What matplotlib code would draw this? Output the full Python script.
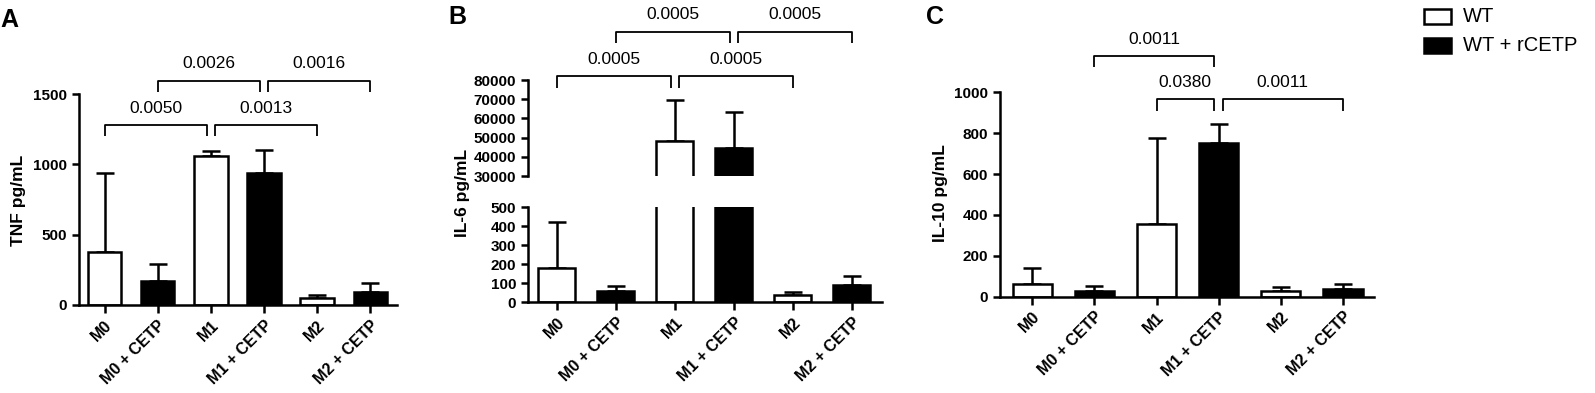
import matplotlib
matplotlib.use("Agg")
import matplotlib.pyplot as plt
from matplotlib.patches import Rectangle
import numpy as np

plt.rcParams["font.family"] = ["Liberation Sans", "DejaVu Sans"]

groups = ["M0", "M0 + CETP", "M1", "M1 + CETP", "M2", "M2 + CETP"]
colors = ["white", "black", "white", "black", "white", "black"]

# means and upper error ends (mean + SD)
tnf_mean = [380, 172, 1060, 940, 52, 92]
tnf_top = [940, 290, 1095, 1100, 72, 158]
il6_mean = [177, 58, 48000, 44500, 37, 88]
il6_top = [423, 86, 69600, 63500, 51, 137]
il10_mean = [61, 28, 356, 753, 28, 36]
il10_top = [142, 50, 775, 845, 48, 62]

# brackets: (left, right, bar y, leg y, text y, label)
tnf_brackets = [
    (0, 1.925, 1280, 1200, 1400, "0.0050"),
    (2.075, 4, 1280, 1200, 1400, "0.0013"),
    (1, 2.925, 1595, 1515, 1720, "0.0026"),
    (3.075, 5, 1595, 1515, 1720, "0.0016"),
]
il6_brackets = [
    (0, 1.93, 82000, 76000, 90800, "0.0005"),
    (2.07, 4, 82000, 76000, 90800, "0.0005"),
    (1, 2.93, 104800, 99100, 113900, "0.0005"),
    (3.07, 5, 104800, 99100, 113900, "0.0005"),
]
il10_brackets = [
    (1, 2.925, 1178, 1125, 1259, "0.0011"),
    (2, 2.925, 967, 910, 1047, "0.0380"),
    (3.065, 5, 967, 910, 1047, "0.0011"),
]

W, H = 1595, 393
fig = plt.figure(figsize=(W / 100, H / 100), dpi=100)

LW = 1.8
x = np.arange(len(groups))


def px_box(l, r, t, b):
    return [l / W, 1 - b / H, (r - l) / W, (b - t) / H]


def draw_bars(ax, mean, top):
    mean = np.array(mean, float)
    top = np.array(top, float)
    ax.errorbar(x, mean, yerr=[np.zeros_like(mean), top - mean], fmt="none",
                ecolor="black", elinewidth=LW, capsize=6.8, capthick=LW,
                zorder=1)
    ax.bar(x, mean, width=0.63, color=colors, edgecolor="black", lw=LW,
           zorder=2)


def style(ax, xlim, xt=True):
    for s in ("top", "right"):
        ax.spines[s].set_visible(False)
    for s in ("left", "bottom"):
        ax.spines[s].set_linewidth(LW)
    ax.set_xlim(*xlim)
    ax.tick_params(axis="both", width=LW, length=5, direction="out")
    ax.tick_params(axis="y", labelsize=11)
    for t in ax.get_yticklabels():
        t.set_fontweight("bold")
    if xt:
        ax.set_xticks(x)
        ax.set_xticklabels(groups, rotation=45, ha="right",
                           rotation_mode="anchor", fontsize=11.5,
                           fontweight="bold")
        ax.tick_params(axis="x", length=6, pad=3)


def draw_brackets(ax, brackets):
    for l, r, yb, yl, yt, lab in brackets:
        ax.plot([l, l, r, r], [yl, yb, yb, yl], color="black", lw=1.3,
                clip_on=False, solid_capstyle="butt")
        ax.text((l + r) / 2, yt, lab, ha="center", va="center",
                fontsize=12.5, clip_on=False)


# ---- A: TNF ----------------------------------------------------------------
axA = fig.add_axes(px_box(79, 397, 94, 305))
draw_bars(axA, tnf_mean, tnf_top)
axA.set_ylim(0, 1500)
axA.set_yticks([0, 500, 1000, 1500])
style(axA, (-0.48, 5.5))
draw_brackets(axA, tnf_brackets)
fig.text(19 / W, 1 - 200 / H, "TNF pg/mL", rotation=90, ha="center",
         va="center", fontsize=12.5, fontweight="bold")
fig.text(0 / W, 1 - 20 / H, "A", ha="left", va="center", fontsize=18,
         fontweight="bold")

# ---- B: IL-6 (broken axis) ---------------------------------------------------
axB = fig.add_axes(px_box(528, 882, 207.3, 302))
axBu = fig.add_axes(px_box(528, 882, 80, 176))
for ax in (axB, axBu):
    draw_bars(ax, il6_mean, il6_top)
axB.set_ylim(0, 500)
axB.set_yticks(range(0, 501, 100))
axBu.set_ylim(30000, 80000)
axBu.set_yticks(range(30000, 80001, 10000))
style(axB, (-0.49, 5.51))
style(axBu, (-0.49, 5.51), xt=False)
axBu.spines["bottom"].set_visible(False)
axBu.set_xticks([])
axBu.patch.set_alpha(0)
draw_brackets(axBu, il6_brackets)
fig.text(462 / W, 1 - 193 / H, "IL-6 pg/mL", rotation=90, ha="center",
         va="center", fontsize=12.5, fontweight="bold")
fig.text(448 / W, 1 - 17 / H, "B", ha="left", va="center", fontsize=18,
         fontweight="bold")

# ---- C: IL-10 ----------------------------------------------------------------
axC = fig.add_axes(px_box(1000, 1374, 92.3, 296.7))
draw_bars(axC, il10_mean, il10_top)
axC.set_ylim(0, 1000)
axC.set_yticks(range(0, 1001, 200))
style(axC, (-0.52, 5.5))
draw_brackets(axC, il10_brackets)
fig.text(941 / W, 1 - 193 / H, "IL-10 pg/mL", rotation=90, ha="center",
         va="center", fontsize=12.5, fontweight="bold")
fig.text(926 / W, 1 - 17 / H, "C", ha="left", va="center", fontsize=18,
         fontweight="bold")

# ---- legend ------------------------------------------------------------------
for (ty, fc, lab) in [(9, "white", "WT"), (38, "black", "WT + rCETP")]:
    fig.add_artist(Rectangle((1424 / W, 1 - (ty + 15) / H), 27 / W, 15 / H,
                             transform=fig.transFigure, fc=fc, ec="black",
                             lw=LW))
    fig.text(1463 / W, 1 - (ty + 7.5) / H, lab, ha="left", va="center",
             fontsize=14.5)

fig.savefig("out.png", dpi=100)
